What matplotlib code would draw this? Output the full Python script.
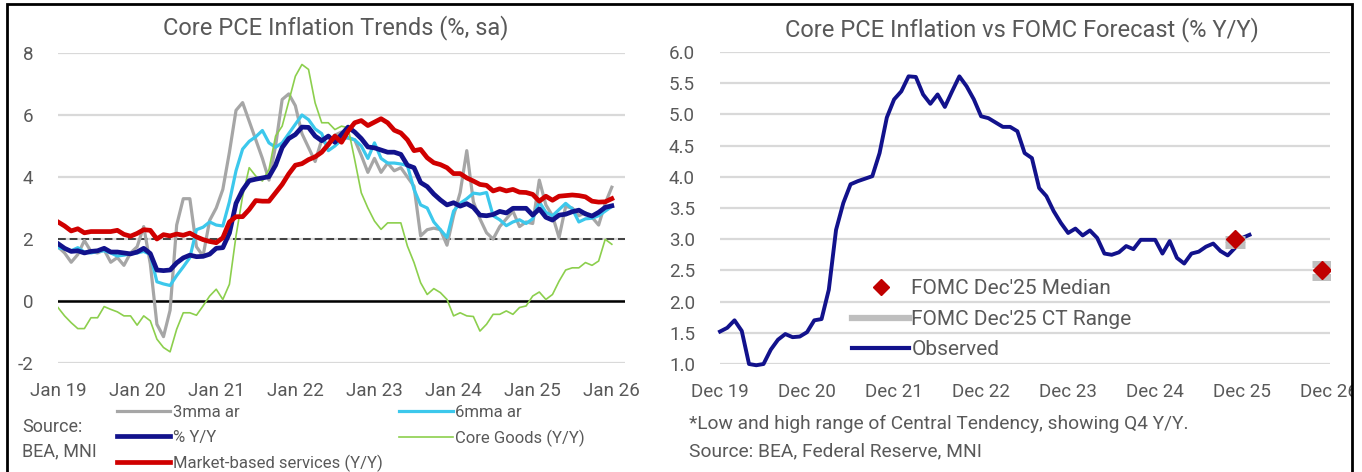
import matplotlib
matplotlib.use("Agg")
import matplotlib.pyplot as plt
from matplotlib import font_manager as fm
from matplotlib.lines import Line2D
from matplotlib.patches import Rectangle


def pick_font(names):
    for n in names:
        try:
            fm.findfont(n, fallback_to_default=False)
            return n
        except ValueError:
            pass
    return "DejaVu Sans"


FONT = pick_font(["Liberation Sans Narrow", "Roboto", "Liberation Sans"])
plt.rcParams["font.family"] = [FONT, "DejaVu Sans"]

TXT = "#595959"

# ---------------- data (monthly, Jan 2019 .. Jan 2026) ----------------
core_yoy = [1.85, 1.70, 1.60, 1.62, 1.55, 1.60, 1.62, 1.70, 1.58, 1.58, 1.55, 1.52,
            1.58, 1.70, 1.53, 1.00, 0.98, 1.00, 1.23, 1.39, 1.48, 1.43, 1.44, 1.51,
            1.70, 1.72, 2.19, 3.15, 3.58, 3.88, 3.93, 3.97, 4.01, 4.38, 4.95, 5.24,
            5.37, 5.61, 5.60, 5.32, 5.17, 5.32, 5.12, 5.37, 5.61, 5.45, 5.24, 4.97,
            4.94, 4.87, 4.80, 4.80, 4.73, 4.38, 4.30, 3.82, 3.69, 3.45, 3.26, 3.10,
            3.17, 3.06, 3.14, 3.02, 2.77, 2.75, 2.79, 2.89, 2.84, 2.99, 2.99, 2.99,
            2.77, 2.97, 2.70, 2.61, 2.77, 2.80, 2.88, 2.93, 2.81, 2.74, 2.86, 3.02,
            3.07]

mma3 = [1.75, 1.55, 1.25, 1.50, 1.95, 1.60, 1.55, 1.65, 1.25, 1.40, 1.15, 1.55,
        1.75, 2.40, 1.20, -0.75, -1.15, -0.30, 2.45, 3.30, 3.30, 1.75, 1.45, 2.60,
        3.00, 3.60, 4.80, 6.15, 6.40, 5.80, 5.20, 4.60, 3.90, 5.00, 6.50, 6.68,
        6.30, 5.40, 4.95, 4.50, 5.20, 5.00, 5.35, 5.45, 5.25, 5.20, 4.70, 4.15,
        4.60, 4.15, 4.45, 4.20, 4.30, 4.00, 3.70, 2.10, 2.30, 2.35, 2.30, 1.80,
        2.75, 3.50, 4.85, 3.20, 2.65, 2.20, 2.00, 2.40, 2.65, 2.90, 2.40, 2.55,
        2.50, 3.90, 3.10, 2.75, 2.05, 3.05, 3.00, 2.75, 2.85, 2.70, 2.45, 3.15,
        3.67]

mma6 = [1.72, 1.68, 1.62, 1.72, 1.58, 1.55, 1.60, 1.62, 1.55, 1.45, 1.48, 1.52,
        1.55, 1.60, 1.50, 0.62, 0.55, 0.50, 0.82, 1.10, 1.40, 2.30, 2.38, 2.55,
        2.45, 2.42, 3.20, 4.20, 4.90, 5.15, 5.30, 5.50, 5.10, 4.96, 5.10, 5.40,
        5.70, 6.00, 5.85, 5.55, 5.40, 4.85, 5.00, 5.20, 5.28, 5.20, 5.00, 4.60,
        5.10, 4.60, 4.45, 4.45, 4.42, 4.37, 3.60, 3.10, 3.00, 2.55, 2.30, 2.05,
        2.90, 3.15, 3.30, 3.48, 3.45, 3.50, 2.75, 2.62, 2.43, 2.55, 2.62, 2.50,
        2.65, 3.20, 2.86, 2.75, 2.95, 3.15, 2.97, 2.55, 2.65, 2.67, 2.75, 2.90,
        3.05]

core_goods = [-0.21, -0.48, -0.70, -0.89, -0.89, -0.54, -0.54, -0.18, -0.27, -0.35, -0.48, -0.48,
              -0.78, -0.48, -0.64, -1.23, -1.50, -1.64, -0.91, -0.38, -0.38, -0.46, -0.16, 0.16,
              0.38, 0.05, 0.54, 2.10, 3.38, 4.30, 4.03, 3.87, 4.24, 5.32, 5.64, 6.44,
              7.25, 7.63, 7.47, 6.39, 5.75, 5.75, 5.53, 5.64, 5.59, 4.56, 3.49, 3.00,
              2.58, 2.31, 2.52, 2.52, 2.52, 1.77, 1.24, 0.59, 0.21, 0.40, 0.27, 0.05,
              -0.48, -0.38, -0.48, -0.50, -0.97, -0.75, -0.43, -0.43, -0.32, -0.43, -0.21, -0.16,
              0.16, 0.29, 0.05, 0.21, 0.64, 1.00, 1.07, 1.07, 1.24, 1.15, 1.29, 1.99,
              1.83]

market_services = [2.55, 2.42, 2.26, 2.33, 2.20, 2.24, 2.24, 2.24, 2.24, 2.28, 2.15, 2.09,
                   2.18, 2.30, 2.28, 2.00, 2.14, 2.10, 2.16, 2.12, 2.19, 2.07, 1.98, 1.92,
                   1.88, 2.04, 2.55, 2.72, 2.72, 2.95, 3.24, 3.22, 3.22, 3.49, 3.76, 4.10,
                   4.38, 4.43, 4.56, 4.65, 4.80, 5.05, 5.32, 5.12, 5.48, 5.75, 5.82, 5.66,
                   5.77, 5.88, 5.75, 5.51, 5.42, 5.20, 4.85, 4.89, 4.62, 4.46, 4.40, 4.30,
                   4.11, 4.11, 3.97, 3.87, 3.76, 3.73, 3.55, 3.62, 3.55, 3.60, 3.51, 3.50,
                   3.44, 3.22, 3.38, 3.25, 3.38, 3.40, 3.42, 3.40, 3.36, 3.22, 3.19, 3.20,
                   3.30]

left_xticks = ["Jan 19", "Jan 20", "Jan 21", "Jan 22", "Jan 23", "Jan 24", "Jan 25", "Jan 26"]
left_yticks = [-2, 0, 2, 4, 6, 8]

# right chart: months counted from Dec 2019
observed = core_yoy[11:]
fomc_month = [71, 83]
fomc_median = [3.0, 2.5]
fomc_ct_low = [2.9, 2.4]
fomc_ct_high = [3.0, 2.6]
right_xticks = ["Dec 19", "Dec 20", "Dec 21", "Dec 22", "Dec 23", "Dec 24", "Dec 25", "Dec 26"]
right_yticks = [1.0, 1.5, 2.0, 2.5, 3.0, 3.5, 4.0, 4.5, 5.0, 5.5, 6.0]

W, H = 1362, 472
fig = plt.figure(figsize=(W / 100, H / 100), dpi=100)


def px_axes(x0, y0, x1, y1):
    return fig.add_axes([x0 / W, 1 - y1 / H, (x1 - x0) / W, (y1 - y0) / H])


def style(ax):
    for s in ax.spines.values():
        s.set_visible(False)
    ax.grid(axis="y", color="#D9D9D9", lw=1.6)
    ax.set_axisbelow(True)
    ax.tick_params(length=0, labelcolor=TXT, labelsize=13.5)


# ---------------- left chart ----------------
ax1 = px_axes(58, 53, 625, 363)
style(ax1)
m = list(range(len(core_yoy)))
ax1.axhline(2, color="#404040", lw=1.4, ls=(0, (4, 2)), zorder=1.5)
ax1.axhline(0, color="black", lw=1.8, zorder=1.5)
l_g, = ax1.plot(m, mma3, color="#A6A6A6", lw=2.3, label="3mma ar")
l_c, = ax1.plot(m, mma6, color="#3CC8EC", lw=2.3, label="6mma ar")
l_gr, = ax1.plot(m, core_goods, color="#8CCF4D", lw=1.2, label="Core Goods (Y/Y)")
l_n, = ax1.plot(m, core_yoy, color="#12128C", lw=3.4, label="% Y/Y")
l_r, = ax1.plot(m, market_services, color="#D00000", lw=3.4, label="Market-based services (Y/Y)")
ax1.set_xlim(0, 86)
ax1.set_ylim(-2, 8)
ax1.set_xticks(range(0, 85, 12))
ax1.set_xticklabels(left_xticks)
ax1.set_yticks(left_yticks)
ax1.set_yticklabels([str(v) for v in left_yticks])
ax1.tick_params(axis="y", pad=18)
ax1.tick_params(axis="x", pad=14)

fig.text(336 / W, 1 - 28 / H, "Core PCE Inflation Trends (%, sa)", ha="center", va="center",
         fontsize=17, color=TXT)

order = [l_g, l_n, l_r, l_c, l_gr]
fig.legend(order, [h.get_label() for h in order],
           loc="upper left", bbox_to_anchor=(117 / W, 1 - 405 / H), ncol=2,
           frameon=False, fontsize=12, handlelength=3.2, handletextpad=0.15,
           columnspacing=1.0, labelspacing=0.58, borderpad=0, borderaxespad=0,
           labelcolor=TXT)
fig.text(22 / W, 1 - 427 / H, "Source:", ha="left", va="center", fontsize=13, color=TXT)
fig.text(22 / W, 1 - 451 / H, "BEA, MNI", ha="left", va="center", fontsize=13, color=TXT)

# ---------------- right chart ----------------
ax2 = px_axes(720, 52, 1330, 364)
style(ax2)
mo = list(range(len(observed)))
ax2.plot(mo, observed, color="#12128C", lw=2.8, clip_on=False, zorder=3)
for xm, lo, hi in zip(fomc_month, fomc_ct_low, fomc_ct_high):
    ax2.plot([xm, xm], [lo, hi], color="#BFBFBF", lw=5, marker="_", ms=15, mew=5,
             solid_capstyle="butt", zorder=3.5)
ax2.plot(fomc_month, fomc_median, ls="none", marker="D", ms=9, color="#C00000", zorder=4)
ax2.set_xlim(0, 84.1)
ax2.set_ylim(1, 6)
ax2.set_xticks(range(0, 85, 12))
ax2.set_xticklabels(right_xticks)
ax2.set_yticks(right_yticks)
ax2.set_yticklabels([f"{v:.1f}" for v in right_yticks])
ax2.tick_params(axis="y", pad=18)
ax2.tick_params(axis="x", pad=14)

fig.text(1022 / W, 1 - 30 / H, "Core PCE Inflation vs FOMC Forecast (% Y/Y)", ha="center",
         va="center", fontsize=17, color=TXT)

h_med = Line2D([], [], ls="none", marker="D", ms=8, color="#C00000")
h_ct = Line2D([], [], color="#BFBFBF", lw=4.5)
h_obs = Line2D([], [], color="#12128C", lw=3)
ax2.legend([h_med, h_ct, h_obs], ["FOMC Dec'25 Median", "FOMC Dec'25 CT Range", "Observed"],
           loc="upper left", bbox_to_anchor=(852 / W, 1 - 279.5 / H), bbox_transform=fig.transFigure,
           frameon=False, fontsize=15, handlelength=2.75, handletextpad=0.1,
           labelspacing=0.55, borderpad=0, borderaxespad=0, labelcolor=TXT)

fig.text(689 / W, 1 - 424 / H, "*Low and high range of Central Tendency, showing Q4 Y/Y.",
         ha="left", va="center", fontsize=13.8, color=TXT)
fig.text(689 / W, 1 - 451 / H, "Source: BEA, Federal Reserve, MNI",
         ha="left", va="center", fontsize=13.8, color=TXT)

# outer frame (right side clips the last tick label)
fig.add_artist(Rectangle((1353 / W, 0), 1 - 1353 / W, 1, transform=fig.transFigure,
                         facecolor="white", edgecolor="none", zorder=9))
fig.add_artist(Rectangle((7 / W, -0.02), (1352 - 7) / W, 1.02 - 4 / H, transform=fig.transFigure,
                         facecolor="none", edgecolor="black", lw=2, zorder=10))

fig.savefig("out.png", dpi=100)
